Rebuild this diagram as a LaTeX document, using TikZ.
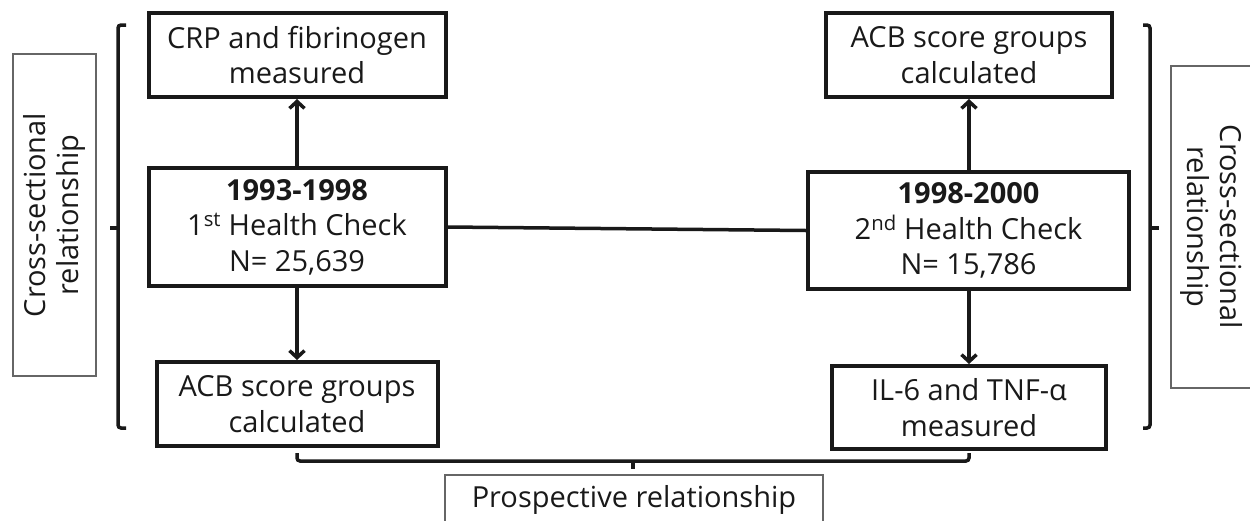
\documentclass[tikz,border=0pt]{standalone}
\usepackage{fontspec}
\setmainfont{Open Sans}
\usetikzlibrary{arrows.meta}
\begin{document}
\begin{tikzpicture}[x=1pt,y=-1pt,
  box/.style={draw=black!90,line width=4pt,align=center,inner sep=0pt,
    font=\fontsize{29}{35.5}\selectfont,text=black!90},
  lab/.style={draw=black!60,line width=1.3pt,align=center,inner sep=0pt,
    font=\fontsize{29}{33}\selectfont,text=black!90},
  conn/.style={line width=3.5pt,draw=black!90},
  arr/.style={conn,-{Straight Barb[length=7pt,width=15pt,line width=3.5pt]}},
  brk/.style={line width=3.5pt,draw=black!90,rounded corners=3pt}]
\useasboundingbox (0,0) rectangle (1250,520);
% boxes
\node[box,minimum width=297pt,minimum height=84pt] (crp) at (297,55) {CRP and fibrinogen\\measured};
\node[box,minimum width=297pt,minimum height=118pt] (h1) at (297,227) {\textbf{1993-1998}\\1\textsuperscript{st} Health Check\\N= 25,639};
\node[box,minimum width=281pt,minimum height=84pt] (acb1) at (297,404) {ACB score groups\\calculated};
\node[box,minimum width=286pt,minimum height=84pt] (acb2) at (969,55) {ACB score groups\\calculated};
\node[box,minimum width=321pt,minimum height=117pt] (h2) at (968.5,230.5) {\textbf{1998-2000}\\2\textsuperscript{nd} Health Check\\N= 15,786};
\node[box,minimum width=274pt,minimum height=83pt] (il6) at (969,407.5) {IL-6 and TNF-α\\measured};
% labels
\node[lab,rotate=90,minimum width=322pt,minimum height=83pt] (lab1) at (54.5,215) {Cross-sectional\\relationship};
\node[lab,rotate=-90,minimum width=322pt,minimum height=82pt] (lab2) at (1212,227) {Cross-sectional\\relationship};
\node[lab,minimum width=378pt,minimum height=50pt] (pro) at (634,500) {Prospective relationship};
% arrows
\draw[arr] (h1.north) -- (crp.south);
\draw[arr] (h1.south) -- (acb1.north);
\draw[arr] (h2.north -| acb2.south) -- (acb2.south);
\draw[arr] (h2.south -| il6.north) -- (il6.north);
\draw[conn] (h1.east) -- (h2.west);
% brackets
\coordinate (lt) at (126,25); \coordinate (lb) at (126,428); \coordinate (lm) at (110,228);
\draw[brk] (lt) -- (118,25) -- (118,428) -- (lb);
\draw[conn] (118,228) -- (lm);
\coordinate (rt) at (1143,25); \coordinate (rb) at (1143,428); \coordinate (rm) at (1159,228);
\draw[brk] (rt) -- (1150,25) -- (1150,428) -- (rb);
\draw[conn] (1150,228) -- (rm);
\coordinate (bl) at (297,453); \coordinate (br) at (969,453); \coordinate (bm) at (633,469);
\draw[brk] (bl) -- (297,461) -- (969,461) -- (br);
\draw[conn] (633,461) -- (bm);
\end{tikzpicture}
\end{document}
